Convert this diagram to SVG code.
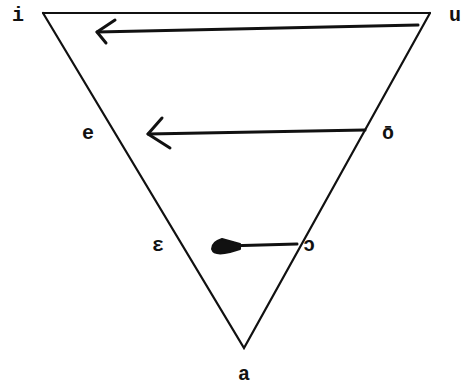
<svg xmlns="http://www.w3.org/2000/svg" width="469" height="385" viewBox="0 0 469 385">
<style>
.lbl{font-family:"Liberation Mono","DejaVu Sans Mono",monospace;font-size:20px;font-weight:bold;fill:#111;text-anchor:middle}
.edge{stroke:#111;stroke-width:2.2;fill:none;stroke-linecap:round}
.arr{stroke:#111;stroke-width:3;fill:none;stroke-linecap:round;stroke-linejoin:round}
</style>
<rect width="469" height="385" fill="#fff"/>
<g id="triangle">
<path class="edge" d="M43,13 L430,13" stroke-width="3"/>
<path class="edge" d="M43,13 L244,348 L430,13"/>
</g>
<g id="connectors">
<path class="arr" d="M418,25 L97,32"/>
<path class="arr" d="M115,20 L97,32 L106,43"/>
<path class="arr" d="M365,130 L148,134"/>
<path class="arr" d="M162,118 L148,134 L170,148"/>
<path class="arr" d="M297,244 L225,246"/>
<path d="M222,239 Q212,242 212,249 Q214,256 230,252 L240,249 L240,244 Z" fill="#111" stroke="#111" stroke-width="2" stroke-linejoin="round"/>
</g>
<g id="n-i"><text class="lbl" x="18" y="21">i</text></g>
<g id="n-u"><text class="lbl" x="455" y="21">u</text></g>
<g id="n-e"><text class="lbl" x="88" y="139">e</text></g>
<g id="n-o"><text class="lbl" x="388" y="139">ō</text></g>
<g id="n-eps"><text class="lbl" x="158" y="251">ɛ</text></g>
<g id="n-open-o"><text class="lbl" x="309" y="251">ɔ</text></g>
<g id="n-a"><text class="lbl" x="244" y="380">a</text></g>
</svg>
